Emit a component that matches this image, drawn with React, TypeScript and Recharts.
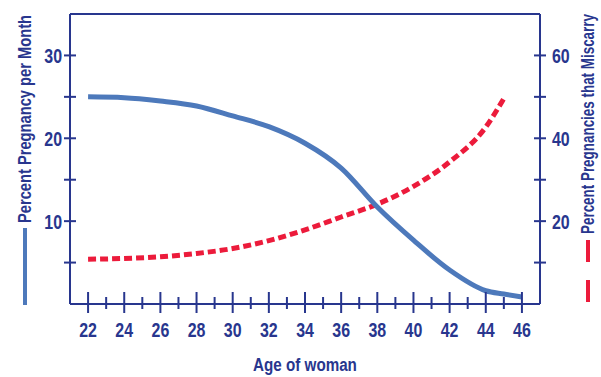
import { LineChart, Line, XAxis, YAxis, ReferenceLine } from "recharts";

const ages = [22, 24, 26, 28, 30, 32, 34, 36, 38, 40, 42, 44, 45, 46];
const pregnancyPerMonth = [25.0, 24.9, 24.5, 23.9, 22.7, 21.4, 19.4, 16.4, 11.7, 7.7, 4.1, 1.6, 1.2, 0.85];
const miscarriage = [10.8, 11.0, 11.4, 12.2, 13.4, 15.3, 17.9, 21.0, 24.1, 28.4, 34.3, 42.7, 49.6, null];

const xTicks = [22, 23, 24, 25, 26, 27, 28, 29, 30, 31, 32, 33, 34, 35, 36, 37, 38, 39, 40, 41, 42, 43, 44, 45, 46];
const leftTicks = [5, 10, 15, 20, 25, 30];
const rightTicks = [10, 20, 30, 40, 50, 60];
const leftMax = 35;

const data = ages.map((age, i) => ({
  age,
  pregnancy: pregnancyPerMonth[i],
  miscarriage: miscarriage[i],
}));

const NAVY = "#28368e";
const BLUE = "#4d79bb";
const RED = "#ec1b3b";
const FONT = "'Liberation Sans Narrow', 'Liberation Sans', sans-serif";

const BottomTick = (props: any) => {
  const { x, y, payload } = props;
  const major = payload.value % 2 === 0;
  return (
    <g>
      <line x1={x} x2={x} y1={major ? y - 12 : y - 7} y2={major ? y + 9 : y + 5} stroke={NAVY} strokeWidth={2} />
      {major && (
        <text transform={`translate(${x},${y + 33}) scale(0.76,1)`} textAnchor="middle" fill={NAVY} fontSize={21} fontFamily={FONT} fontWeight="bold">
          {payload.value}
        </text>
      )}
    </g>
  );
};

const LeftTick = (props: any) => {
  const { x, y, payload } = props;
  const labeled = payload.value % 10 === 0;
  return (
    <g>
      <line x1={x - 6} x2={x + 6} y1={y} y2={y} stroke={NAVY} strokeWidth={2} />
      {labeled && (
        <text transform={`translate(${x - 8},${y + 7.5}) scale(0.76,1)`} textAnchor="end" fill={NAVY} fontSize={21} fontFamily={FONT} fontWeight="bold">
          {payload.value}
        </text>
      )}
    </g>
  );
};

const RightTick = (props: any) => {
  const { x, y, payload } = props;
  const labeled = payload.value % 20 === 0;
  return (
    <g>
      <line x1={x - 6} x2={x + 6} y1={y} y2={y} stroke={NAVY} strokeWidth={2} />
      {labeled && (
        <text transform={`translate(${x + 12},${y + 7.5}) scale(0.76,1)`} textAnchor="start" fill={NAVY} fontSize={21} fontFamily={FONT} fontWeight="bold">
          {payload.value}
        </text>
      )}
    </g>
  );
};

const LeftLabel = (props: any) => {
  const { viewBox } = props;
  const cx = viewBox.x + 25;
  const top = viewBox.y;
  return (
    <g>
      <text transform={`translate(${cx + 6},${top + 105}) rotate(-90)`} textAnchor="middle" fill={NAVY} fontSize={18} fontFamily={FONT} fontWeight="bold" textLength={208} lengthAdjust="spacingAndGlyphs">
        Percent Pregnancy per Month
      </text>
      <line x1={cx} x2={cx} y1={top + 214} y2={top + 291} stroke={BLUE} strokeWidth={4} />
    </g>
  );
};

const RightLabel = (props: any) => {
  const { viewBox } = props;
  const cx = viewBox.x + 48;
  const top = viewBox.y;
  return (
    <g>
      <text transform={`translate(${cx + 6},${top + 110}) rotate(-90)`} textAnchor="middle" fill={NAVY} fontSize={18} fontFamily={FONT} fontWeight="bold" textLength={220} lengthAdjust="spacingAndGlyphs">
        Percent Pregnancies that Miscarry
      </text>
      <line x1={cx} x2={cx} y1={top + 226} y2={top + 291} stroke={RED} strokeWidth={4} strokeDasharray="22 18" />
    </g>
  );
};

const BottomLabel = (props: any) => {
  const { viewBox } = props;
  return (
    <text transform={`translate(${viewBox.x + viewBox.width / 2},${viewBox.y + 67}) scale(0.8,1)`} textAnchor="middle" fill={NAVY} fontSize={19} fontFamily={FONT} fontWeight="bold">
      Age of woman
    </text>
  );
};

export default function App() {
  return (
    <div style={{ position: "absolute", left: 0, top: 0, background: "#fff" }}>
      <LineChart width={601} height={377} data={data} margin={{ top: 0, right: 0, left: 0, bottom: 0 }}>
        <XAxis
          dataKey="age"
          type="number"
          domain={[21, 47]}
          ticks={xTicks}
          interval={0}
          height={73}
          tickSize={0}
          tickMargin={0}
          tick={<BottomTick />}
          axisLine={{ stroke: NAVY, strokeWidth: 2 }}
          label={{ content: <BottomLabel /> }}
        />
        <XAxis
          xAxisId="top"
          orientation="top"
          dataKey="age"
          type="number"
          domain={[21, 47]}
          height={14}
          tick={false}
          tickLine={false}
          axisLine={{ stroke: NAVY, strokeWidth: 2 }}
        />
        <YAxis
          yAxisId="left"
          domain={[0, leftMax]}
          ticks={leftTicks}
          interval={0}
          width={70}
          tickSize={0}
          tickMargin={0}
          tick={<LeftTick />}
          axisLine={{ stroke: NAVY, strokeWidth: 2 }}
          label={{ content: <LeftLabel /> }}
        />
        <YAxis
          yAxisId="right"
          orientation="right"
          domain={[0, 70]}
          ticks={rightTicks}
          interval={0}
          width={61}
          tickSize={0}
          tickMargin={0}
          tick={<RightTick />}
          axisLine={{ stroke: NAVY, strokeWidth: 2 }}
          label={{ content: <RightLabel /> }}
        />
        <ReferenceLine yAxisId="left" y={leftMax} stroke={NAVY} strokeWidth={2} ifOverflow="visible" />
        <Line yAxisId="right" type="monotone" dataKey="miscarriage" stroke={RED} strokeWidth={5} strokeDasharray="8 4" dot={false} isAnimationActive={false} />
        <Line yAxisId="left" type="monotone" dataKey="pregnancy" stroke={BLUE} strokeWidth={5} dot={false} isAnimationActive={false} />
      </LineChart>
    </div>
  );
}
